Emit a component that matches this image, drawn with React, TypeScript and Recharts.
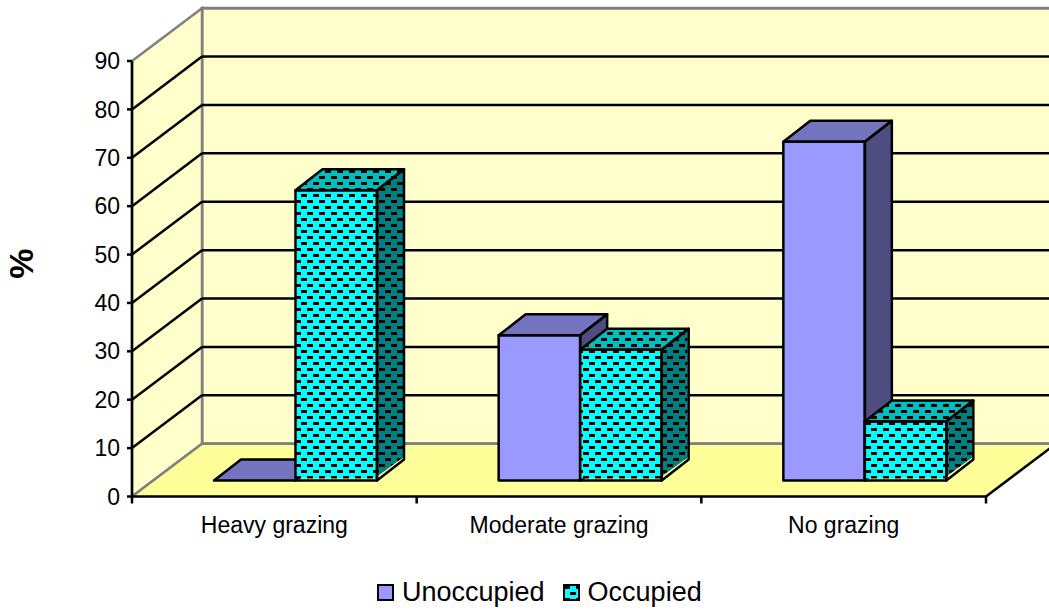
import { BarChart, Bar, XAxis, YAxis, CartesianGrid, Legend, usePlotArea } from "recharts";

const categories = ["Heavy grazing", "Moderate grazing", "No grazing"];
const unoccupied = [0, 30, 70];
const occupied = [60, 27, 12.2];
const yTicks = [0, 10, 20, 30, 40, 50, 60, 70, 80, 90];

const rows = categories.map((name, i) => ({
  name,
  Unoccupied: unoccupied[i],
  Occupied: occupied[i],
}));

const FONT = "'Liberation Sans', Arial, sans-serif";
// depth of the floor, and of a bar on it
const WALL_DX = 70;
const WALL_DY = 52.8;
const BAR_DX = 27;
const BAR_DY = 21;
const BAR_SHIFT_X = 21;
const BAR_SHIFT_Y = 16;

function Dashes({ id, bg }: { id: string; bg: string }) {
  return (
    <pattern id={id} width="12" height="12" patternUnits="userSpaceOnUse">
      <rect width="12" height="12" fill={bg} />
      <rect x="1" y="2" width="6" height="3" fill="#000" />
      <rect x="7" y="8" width="6" height="3" fill="#000" />
      <rect x="-5" y="8" width="6" height="3" fill="#000" />
    </pattern>
  );
}

function Walls() {
  const plot = usePlotArea();
  if (!plot) return null;
  const { x, y, width, height } = plot;
  const bottom = y + height;
  const right = x + width;
  return (
    <g>
      <defs>
        <Dashes id="occFront" bg="#00FFFF" />
        <Dashes id="occTop" bg="#00BFBF" />
        <Dashes id="occSide" bg="#008080" />
      </defs>
      <polygon
        points={`${x + WALL_DX},${y - WALL_DY} ${right + WALL_DX},${y - WALL_DY} ${right + WALL_DX},${bottom - WALL_DY} ${x + WALL_DX},${bottom - WALL_DY}`}
        fill="#FFFFCC"
        stroke="#808080"
        strokeWidth={3}
      />
      <polygon
        points={`${x},${y} ${x + WALL_DX},${y - WALL_DY} ${x + WALL_DX},${bottom - WALL_DY} ${x},${bottom}`}
        fill="#FFFFCC"
        stroke="#808080"
        strokeWidth={2.5}
      />
      <polygon
        points={`${x},${bottom} ${right},${bottom} ${right + WALL_DX},${bottom - WALL_DY} ${x + WALL_DX},${bottom - WALL_DY}`}
        fill="#FFFF99"
      />
      <line x1={x + WALL_DX} y1={bottom - WALL_DY} x2={right + WALL_DX} y2={bottom - WALL_DY} stroke="#808080" strokeWidth={2.5} />
      <line x1={x} y1={bottom} x2={x + WALL_DX} y2={bottom - WALL_DY} stroke="#808080" strokeWidth={2.5} />
      <line x1={right} y1={bottom} x2={right + WALL_DX} y2={bottom - WALL_DY} stroke="#000" strokeWidth={2.5} />
    </g>
  );
}

function GridLine(props: any) {
  const { x1, x2, y1, index } = props;
  // the walls go in with the first grid line, so they stay behind the others
  if (index === 0) return <Walls />;
  if (index === yTicks.length - 1) return null;
  const backY = y1 - WALL_DY;
  const backX = x1 + WALL_DX;
  return (
    <g>
      <line x1={x1} y1={y1} x2={backX} y2={backY} stroke="#000" strokeWidth={2.5} />
      <line x1={backX} y1={backY} x2={x2 + WALL_DX} y2={backY} stroke="#000" strokeWidth={2.5} />
    </g>
  );
}

function makeBox(front: string, top: string, side: string, gap: number) {
  return function Box(props: any) {
    const x = props.x + BAR_SHIFT_X;
    const y = props.y - BAR_SHIFT_Y;
    const w = props.width;
    const h = props.height;
    const r = x + w;
    const b = y + h;
    const outline = { stroke: "#000", strokeWidth: 2.5, strokeLinejoin: "round" as const, fill: "none" };
    return (
      <g>
        <polygon points={`${r},${y} ${r + BAR_DX - gap / 2},${y - BAR_DY} ${r + BAR_DX - gap / 2},${b - BAR_DY - gap} ${r},${b - gap * 2}`} fill={side} />
        <polygon points={`${x},${y} ${x + BAR_DX},${y - BAR_DY} ${r + BAR_DX},${y - BAR_DY} ${r},${y}`} fill={top} />
        <rect x={x} y={y} width={w} height={Math.max(h - gap, 0)} fill={front} />
        <polygon points={`${r},${y} ${r + BAR_DX},${y - BAR_DY} ${r + BAR_DX},${b - BAR_DY} ${r},${b}`} {...outline} />
        <polygon points={`${x},${y} ${x + BAR_DX},${y - BAR_DY} ${r + BAR_DX},${y - BAR_DY} ${r},${y}`} {...outline} />
        <rect x={x} y={y} width={w} height={h} {...outline} />
      </g>
    );
  };
}

const UnoccupiedBox = makeBox("#9999FF", "#7373BF", "#4D4D80", 0);
const OccupiedBox = makeBox("url(#occFront)", "url(#occTop)", "url(#occSide)", 2);

function CategoryTick(props: any) {
  const { x, y, width, payload, index } = props;
  const half = width / categories.length / 2;
  const axisY = y - 8;
  return (
    <g>
      <line x1={x - half} y1={axisY} x2={x - half} y2={axisY + 7} stroke="#000" strokeWidth={2.5} />
      {index === categories.length - 1 && (
        <line x1={x + half} y1={axisY} x2={x + half} y2={axisY + 7} stroke="#000" strokeWidth={2.5} />
      )}
      <text x={x} y={533} textAnchor="middle" fontSize={23} fontFamily={FONT} fill="#000">
        {payload.value}
      </text>
    </g>
  );
}

function LegendBox({ payload }: any) {
  return (
    <div style={{ display: "flex", alignItems: "center", paddingLeft: 377, fontFamily: FONT, fontSize: 27, color: "#000", lineHeight: "30px" }}>
      {(payload || []).map((item: any) => (
        <div key={item.value} style={{ display: "flex", alignItems: "center", marginRight: 18 }}>
          <svg width={17} height={17} style={{ marginRight: 8 }}>
            <rect x={1} y={1} width={15} height={15} fill={item.color} stroke="#000" strokeWidth={2} />
          </svg>
          <span>{item.value}</span>
        </div>
      ))}
    </div>
  );
}

export default function App() {
  return (
    <div style={{ position: "absolute", left: 0, top: 0, width: 1049, height: 613, background: "#fff", overflow: "hidden" }}>
      <BarChart
        width={1049}
        height={613}
        data={rows}
        margin={{ top: 61, right: 63, bottom: 0, left: 0 }}
        barSize={81.5}
        barGap={0}
        style={{ fontFamily: FONT }}
      >
        <CartesianGrid vertical={false} horizontal={(p: any) => <GridLine key={p.index} {...p} />} />
        <XAxis
          dataKey="name"
          height={116.5}
          interval={0}
          tick={<CategoryTick />}
          tickLine={false}
          axisLine={{ stroke: "#000", strokeWidth: 2.5 }}
        />
        <YAxis
          width={132}
          domain={[0, 90]}
          ticks={yTicks}
          interval={0}
          tickSize={5}
          tickMargin={7}
          tick={{ fontSize: 23, fill: "#000", fontFamily: FONT }}
          tickLine={{ stroke: "#000", strokeWidth: 2.5 }}
          axisLine={{ stroke: "#000", strokeWidth: 2.5 }}
          label={{ value: "%", angle: -90, position: "insideLeft", offset: 21, dy: 0, style: { fontSize: 34, fontWeight: "bold", fill: "#000", fontFamily: FONT } }}
        />
        <Legend
          verticalAlign="middle"
          align="center"
          itemSorter={null}
          content={<LegendBox />}
          wrapperStyle={{ left: 0, top: 577, width: 1049 }}
        />
        <Bar dataKey="Unoccupied" fill="#9999FF" shape={UnoccupiedBox} isAnimationActive={false} />
        <Bar dataKey="Occupied" fill="url(#occFront)" shape={OccupiedBox} isAnimationActive={false} />
      </BarChart>
    </div>
  );
}
